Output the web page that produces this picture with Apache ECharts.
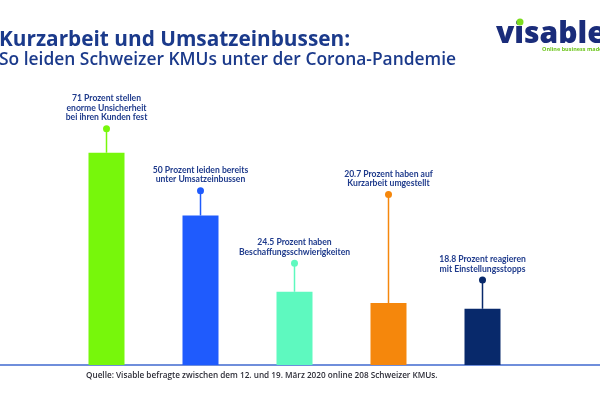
<!DOCTYPE html>
<html>
<head>
<meta charset="utf-8">
<script src="https://cdn.jsdelivr.net/npm/echarts@6/dist/echarts.min.js"></script>
<style>html,body{margin:0;padding:0;background:#fff}#c{width:600px;height:395px}</style>
</head>
<body>
<div id="c"></div>
<script>
const categories = ["Unsicherheit", "Umsatzeinbussen", "Beschaffung", "Kurzarbeit", "Einstellungsstopps"];
const values = [71, 50, 24.5, 20.7, 18.8];
const labels = [
  "71 Prozent stellen\nenorme Unsicherheit\nbei ihren Kunden fest",
  "50 Prozent leiden bereits\nunter Umsatzeinbussen",
  "24.5 Prozent haben\nBeschaffungsschwierigkeiten",
  "20.7 Prozent haben auf\nKurzarbeit umgestellt",
  "18.8 Prozent reagieren\nmit Einstellungsstopps"
];
const colors = ["#77f70b", "#1f5bfd", "#5ef9bf", "#f5870c", "#08296b"];
// level (in % units) where each label pin ends
const pinTips = [79, 58.3, 34, 57, 28.4];

const titleMain = "Kurzarbeit und Umsatzeinbussen:";
const titleSub = "So leiden Schweizer KMUs unter der Corona-Pandemie";
const sourceText = "Quelle: Visable befragte zwischen dem 12. und 19. März 2020 online 208 Schweizer KMUs.";

const chart = echarts.init(document.getElementById('c'), null, {renderer: 'canvas'});
const labelColor = "#1f3b8c";

chart.setOption({
  backgroundColor: '#fff',
  animation: false,
  title: {
    text: titleMain,
    subtext: titleSub,
    left: -1, top: 29, itemGap: 0, padding: 0,
    textStyle: {fontFamily: 'Open Sans', fontWeight: 'bold', fontSize: 20.8, color: '#1b3a8b', lineHeight: 22},
    subtextStyle: {fontFamily: 'Open Sans', fontWeight: 600, fontSize: 17.4, color: '#1b3a8b', lineHeight: 18}
  },
  grid: [
    {left: 59.5, right: 70.5, top: 66, bottom: 30},
    {left: 0, right: 0, top: 66, bottom: 30}
  ],
  xAxis: [
    {type: 'category', data: categories, gridIndex: 0, axisLine: {show: false}, axisTick: {show: false}, axisLabel: {show: false}},
    {type: 'value', gridIndex: 1, min: 0, max: 1, axisLine: {show: true, lineStyle: {color: '#3f68cf', width: 1.5}}, axisTick: {show: false}, axisLabel: {show: false}, splitLine: {show: false}}
  ],
  yAxis: [
    {type: 'value', gridIndex: 0, min: 0, max: 100, show: false},
    {type: 'value', gridIndex: 1, min: 0, max: 1, show: false}
  ],
  series: [
    {
      type: 'bar', xAxisIndex: 0, yAxisIndex: 0, barWidth: 36,
      data: values.map((v, i) => ({value: v, itemStyle: {color: colors[i]}})),
      z: 2
    },
    {
      type: 'custom', xAxisIndex: 0, yAxisIndex: 0, z: 3,
      data: values.map((v, i) => [i, v, pinTips[i]]),
      renderItem: function (params, api) {
        const i = api.value(0);
        const top = api.coord([i, api.value(1)]);
        const tip = api.coord([i, api.value(2)]);
        const c = colors[i];
        return {
          type: 'group',
          children: [
            {type: 'line', shape: {x1: tip[0], y1: tip[1], x2: top[0], y2: top[1]}, style: {stroke: c, lineWidth: 1.5}},
            {type: 'circle', shape: {cx: tip[0], cy: tip[1], r: 3.5}, style: {fill: c}},
            {type: 'text', style: {
              text: labels[i], x: tip[0], y: tip[1] - 6.5,
              textAlign: 'center', textVerticalAlign: 'bottom', align: 'center', verticalAlign: 'bottom',
              fill: labelColor, fontFamily: 'Lato', fontWeight: 'bold', fontSize: 8.6, lineHeight: 9.5
            }}
          ]
        };
      }
    },
    {type: 'line', xAxisIndex: 1, yAxisIndex: 1, data: [], silent: true}
  ],
  graphic: [
    {type: 'text', left: 496, top: 19, style: {text: 'visable', fill: '#1a2c7a', font: '800 30px "Open Sans"'}},
    {type: 'circle', shape: {cx: 520, cy: 22, r: 3.5}, style: {fill: '#7ddc1f'}, z: 100},
    {type: 'text', left: 542, top: 46.5, style: {text: 'Online business made easy', fill: '#6cc51a', font: 'bold 5.5px "Open Sans"'}},
    {type: 'text', left: 86, top: 371.5, style: {text: sourceText, fill: '#2e2e38', font: '600 8.2px "Open Sans"'}}
  ]
});
</script>
</body>
</html>
